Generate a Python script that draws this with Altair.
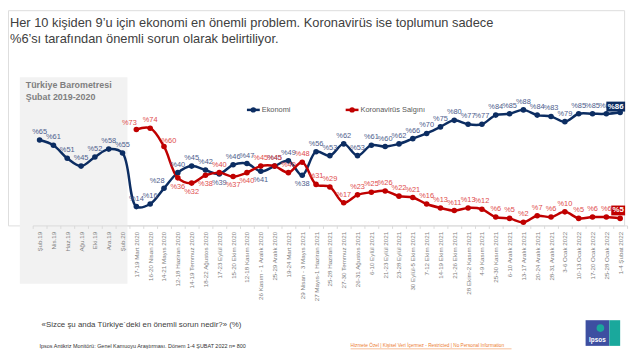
import altair as alt
import pandas as pd

categories = [
    "Şub.19", "Nis.19", "Haz.19", "Ağu.19", "Eki.19", "Ara.19", "Şub.20",
    "17-19 Mart 2020", "16-20 Nisan 2020", "14-21 Mayıs 2020", "12-18 Haziran 2020",
    "14-19 Temmuz 2020", "18-22 Ağustos 2020", "17-23 Eylül 2020", "15-20 Ekim 2020",
    "12-18 Kasım 2020", "26 Kasım - 1 Aralık 2020", "25-29 Aralık 2020", "19-24 Mart 2021",
    "29 Nisan - 3 Mayıs 2021", "27 Mayıs-1 Haziran 2021", "25-28 Haziran 2021",
    "27-30 Temmuz 2021", "26-31 Ağustos 2021", "6-10 Eylül 2021", "21-23 Eylül 2021",
    "23-28 Eylül 2021", "30 Eylül-5 Ekim 2021", "7-12 Ekim 2021", "14-19 Ekim 2021",
    "21-26 Ekim 2021", "28 Ekim-2 Kasım 2021", "4-9 Kasım 2021", "25-30 Kasım 2021",
    "6-10 Aralık 2021", "13-17 Aralık 2021", "20-24 Aralık 2021", "28-31 Aralık 2021",
    "3-6 Ocak 2022", "10-13 Ocak 2022", "17-20 Ocak 2022", "25-28 Ocak 2022", "1-4 Şubat 2022",
]
ekonomi = [65, 61, 51, 45, 52, 58, 55,
           14, 16, 28, 40, 45, 42, 39, 46, 47, 41, 45,
           49, 38, 56, 53, 62, 53, 61, 60, 62,
           66, 70, 75, 80, 77, 77, 84, 85, 88, 84, 83, 79, 85, 85, 85, 86]
koronavirus = [None] * 7 + [73, 74, 60, 36, 32, 38, 40, 37, 40, 45, 45,
                            40, 48, 31, 29, 17, 23, 25, 26, 22,
                            21, 16, 13, 11, 13, 12, 6, 5, 2, 7, 6, 10, 5, 6, 6, 5]
series_names = ["Ekonomi", "Koronavirüs Salgını"]

# ---- styles ----
NAVY = "#0c2d62"
RED = "#c00000"
NAVY_LBL = "#4d5d8c"
RED_LBL = "#e04b4b"
FONT = "Liberation Sans"
W, H = 624, 218

# label placement (style only)
eko_pos = ["a"] * len(categories)
for i, p in {9: "al", 13: "b", 16: "b", 19: "b"}.items():
    eko_pos[i] = p
kor_pos = ["a"] * len(categories)
for i, p in {7: "al", 9: "ar", 10: "b", 11: "b", 12: "b", 14: "b", 15: "b"}.items():
    kor_pos[i] = p
offsets = {"a": (0, -8), "b": (0, 9), "al": (-7, -7), "ar": (5, -6)}

rows = []
for i, c in enumerate(categories):
    rows.append(dict(cat=c, idx=i, seri=series_names[0], v=ekonomi[i], pos=eko_pos[i]))
    if koronavirus[i] is not None:
        rows.append(dict(cat=c, idx=i, seri=series_names[1], v=koronavirus[i], pos=kor_pos[i]))
df = pd.DataFrame(rows)
df["lbl"] = "%" + df["v"].astype(str)
last = len(categories) - 1

x_enc = alt.X("cat:N", sort=categories,
              scale=alt.Scale(type="band", range=[25, 627], paddingInner=0, paddingOuter=0),
              axis=alt.Axis(title=None, labelAngle=-90, labelFontSize=6.3, labelColor="#808080",
                            labelFont=FONT, labelLimit=200, labelPadding=3, tickBand="extent",
                            tickSize=3, tickColor="#d9d9d9", domainColor="#d9d9d9", grid=False,
                            zindex=1))
y_enc = alt.Y("v:Q", scale=alt.Scale(domain=[0, 100], range=[217.5, 85.1]), axis=None)
col = alt.Color("seri:N", scale=alt.Scale(domain=series_names, range=[NAVY, RED]), legend=None)

base = alt.Chart(df)
one = pd.DataFrame({"a": [0]})

gray = alt.Chart(one).mark_rect(color="#f2f2f2").encode(
    x=alt.value(12), x2=alt.value(121), y=alt.value(68), y2=alt.value(277))

lines = base.mark_line(strokeWidth=2.5, interpolate="catmull-rom").encode(
    x=x_enc, y=y_enc, color=col, detail="seri:N")
points = base.mark_point(filled=True, size=32, opacity=1).encode(
    x=alt.X("cat:N", sort=categories), y="v:Q", color=col)

label_layers = []
for s, lc in zip(series_names, [NAVY_LBL, RED_LBL]):
    for p, (dx, dy) in offsets.items():
        label_layers.append(
            base.transform_filter((alt.datum.seri == s) & (alt.datum.pos == p) & (alt.datum.idx < last))
            .mark_text(font=FONT, fontSize=7.5, color=lc, dx=dx, dy=dy)
            .encode(x=alt.X("cat:N", sort=categories), y="v:Q", text="lbl:N"))

# boxed labels for last point
box_eko = base.transform_filter((alt.datum.idx == last) & (alt.datum.seri == series_names[0])).mark_point(
    shape="M-1.47,-1.16H0.53V-0.1H-1.47Z", size=361, filled=True, color=NAVY, opacity=1
).encode(x=alt.X("cat:N", sort=categories), y="v:Q")
box_kor = base.transform_filter((alt.datum.idx == last) & (alt.datum.seri == series_names[1])).mark_point(
    shape="M-0.95,-1.37H0.53V-0.32H-0.95Z", size=361, filled=True, color=RED, opacity=1
).encode(x=alt.X("cat:N", sort=categories), y="v:Q")
txt_eko = base.transform_filter((alt.datum.idx == last) & (alt.datum.seri == series_names[0])).mark_text(
    font=FONT, fontSize=8, fontWeight="bold", color="white", dx=-4.5, dy=-6
).encode(x=alt.X("cat:N", sort=categories), y="v:Q", text="lbl:N")
txt_kor = base.transform_filter((alt.datum.idx == last) & (alt.datum.seri == series_names[1])).mark_text(
    font=FONT, fontSize=8, fontWeight="bold", color="white", dx=-2, dy=-8
).encode(x=alt.X("cat:N", sort=categories), y="v:Q", text="lbl:N")


def txt(s, x, y, size, color="#404040", weight="normal", align="left"):
    return alt.Chart(one).mark_text(text=s, font=FONT, fontSize=size, color=color, fontWeight=weight,
                                    align=align, baseline="middle").encode(x=alt.value(x), y=alt.value(y))


title1 = txt("Her 10 kişiden 9’u için ekonomi en önemli problem. Koronavirüs ise toplumun sadece", 2, 13, 13)
title2 = txt("%6’sı tarafından önemli sorun olarak belirtiliyor.", 2, 29, 13)
box_t1 = txt("Türkiye Barometresi", 18, 76, 9, "#7f7f7f", "bold")
box_t2 = txt("Şubat 2019-2020", 18, 88, 9, "#7f7f7f", "bold")

# legend
leg = []
for (x0, name, c) in [(242, series_names[0], NAVY), (342, series_names[1], RED)]:
    leg.append(alt.Chart(one).mark_rule(color=c, strokeWidth=2.5).encode(
        x=alt.value(x0), x2=alt.value(x0 + 13), y=alt.value(101)))
    leg.append(alt.Chart(one).mark_point(filled=True, size=30, color=c, opacity=1).encode(
        x=alt.value(x0 + 6.5), y=alt.value(101)))
    leg.append(txt(name, x0 + 15, 101, 7.5, "#595959"))

foot1 = txt("«Sizce şu anda Türkiye`deki en önemli sorun nedir?» (%)", 34, 319, 8)
foot2 = txt("Ipsos Antikriz Monitörü: Genel Kamuoyu Araştırması.  Dönem  1-4 ŞUBAT 2022 n= 800", 32, 340, 5.5, "#333333")
foot3 = txt("Hizmete Özel | Kişisel Veri İçermez - Restricted | No Personal Information", 347, 340, 4.8, "#ed7d31")
under = alt.Chart(one).mark_rule(color="#ed7d31", strokeWidth=0.5).encode(
    x=alt.value(347), x2=alt.value(510), y=alt.value(343))

logo_b = alt.Chart(one).mark_rect(color="#3d4fa1").encode(
    x=alt.value(585), x2=alt.value(609), y=alt.value(314), y2=alt.value(340))
logo_t = alt.Chart(one).mark_rect(color="#1aa89c").encode(
    x=alt.value(609), x2=alt.value(620), y=alt.value(314), y2=alt.value(340))
logo_c = alt.Chart(one).mark_point(filled=True, size=60, color="#1aa89c", opacity=1).encode(
    x=alt.value(600), y=alt.value(322))
logo_txt = txt("Ipsos", 597, 334, 6.5, "white", "bold", "center")

chart = alt.layer(
    gray, lines, points, *label_layers, box_eko, box_kor, txt_eko, txt_kor,
    title1, title2, box_t1, box_t2, *leg, foot1, foot2, foot3, under,
    logo_b, logo_t, logo_c, logo_txt,
).properties(
    width=W, height=H, autosize=alt.AutoSizeParams(type="none"),
    padding={"left": 0, "top": 0, "right": 8, "bottom": 126},
).configure_view(stroke=None).configure(background="white")

chart.save("out.html", embed_options={"renderer": "svg", "actions": False})
